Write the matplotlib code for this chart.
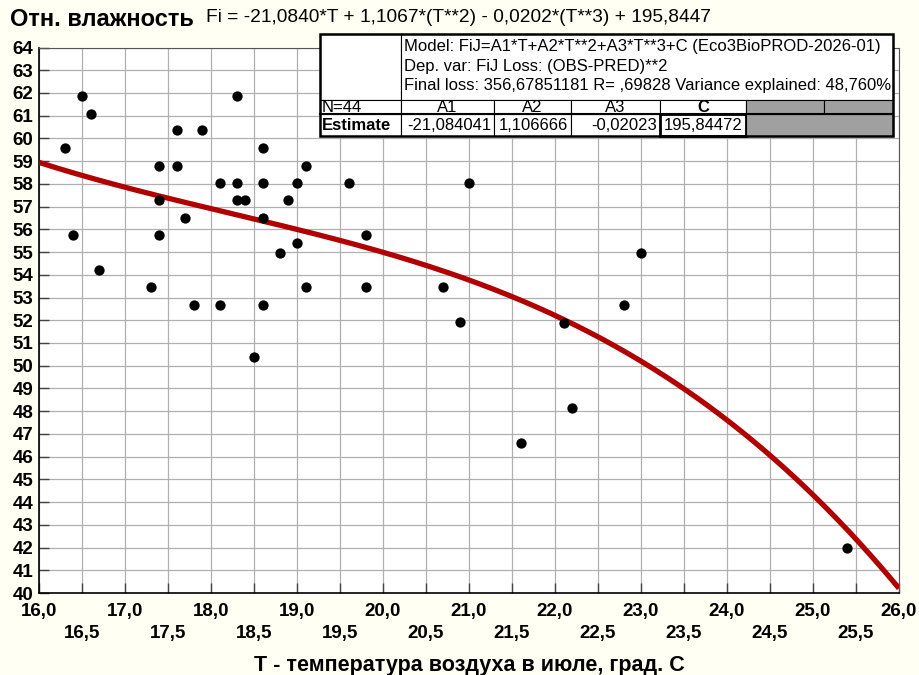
import numpy as np
import matplotlib.pyplot as plt
from matplotlib.patches import Rectangle
from matplotlib.ticker import FuncFormatter

plt.rcParams['font.family'] = ['Liberation Sans', 'DejaVu Sans']

# температура июля (T) и относительная влажность (Fi)
temp = [16.3, 16.4, 16.5, 16.6, 16.7, 17.3, 17.4, 17.4, 17.4, 17.6, 17.6,
        17.7, 17.8, 17.9, 18.1, 18.1, 18.3, 18.3, 18.3, 18.4, 18.5, 18.6,
        18.6, 18.6, 18.6, 18.8, 18.9, 19.0, 19.0, 19.1, 19.1, 19.6, 19.8,
        19.8, 20.7, 20.9, 21.0, 21.6, 22.1, 22.2, 22.8, 23.0, 25.4]
hum = [59.56, 55.75, 61.85, 61.08, 54.21, 53.46, 58.79, 57.27, 55.75, 58.79,
       60.35, 56.49, 52.68, 60.35, 58.03, 52.68, 61.85, 58.03, 57.27, 57.27,
       50.40, 59.56, 58.03, 56.52, 52.68, 54.97, 57.27, 58.03, 55.41, 58.79,
       53.46, 58.03, 55.75, 53.46, 53.46, 51.91, 58.03, 46.60, 51.90, 48.12,
       52.68, 54.98, 42.00]

# оценки параметров модели FiJ = A1*T + A2*T**2 + A3*T**3 + C
A1, A2, A3, C = -21.084041, 1.106666, -0.02023, 195.84472
n_obs = 44
final_loss = '356,67851181'
r_val = ',69828'
var_expl = '48,760%'

W, H = 920, 675
fig = plt.figure(figsize=(W / 100, H / 100), dpi=100)
fig.patch.set_facecolor('#fffff3')

ax = fig.add_axes([39 / W, 82 / H, 860 / W, 545.5 / H])
ax.set_facecolor('white')
ax.set_xlim(16, 26)
ax.set_ylim(40, 64)

# сетка
ax.set_xticks(np.arange(16, 26.01, 1.0))
ax.set_xticks(np.arange(16.5, 26, 1.0), minor=True)
ax.set_yticks(np.arange(40, 64.01, 1))
ax.grid(True, which='both', color='#b0b0b0', lw=0.9, zorder=0)
ax.set_axisbelow(True)

comma = FuncFormatter(lambda v, p: ('%.1f' % v).replace('.', ','))
ax.xaxis.set_major_formatter(comma)
ax.xaxis.set_minor_formatter(comma)
ax.yaxis.set_major_formatter(FuncFormatter(lambda v, p: '%d' % v))

ax.tick_params(axis='both', which='both', direction='in', length=7,
               width=1, color='#444444', labelsize=13.5)
ax.tick_params(axis='x', which='major', pad=7)
ax.tick_params(axis='x', which='minor', pad=23)
ax.tick_params(axis='y', pad=4)
for lab in ax.get_xticklabels(which='both') + ax.get_yticklabels():
    lab.set_fontweight('bold')

for side in ['left', 'bottom']:
    ax.spines[side].set_color('black')
    ax.spines[side].set_linewidth(1.2)
for side in ['top', 'right']:
    ax.spines[side].set_color('#555555')
    ax.spines[side].set_linewidth(0.8)

# кривая модели
tt = np.linspace(16, 26, 400)
fi = A1 * tt + A2 * tt ** 2 + A3 * tt ** 3 + C
ax.plot(tt, fi, color='#b00000', lw=3.8, zorder=3, solid_capstyle='butt')

ax.scatter(temp, hum, s=55, color='black', zorder=4, linewidths=0)

# подписи
fig.text(10 / W, 1 - 26 / H, 'Отн. влажность', fontsize=17,
         fontweight='bold', ha='left', va='baseline')
eq = 'Fi = %s*T + %s*(T**2) - %s*(T**3) + %s' % (
    ('%.4f' % A1).replace('.', ','), ('%.4f' % A2).replace('.', ','),
    ('%.4f' % -A3).replace('.', ','), ('%.4f' % C).replace('.', ','))
fig.text(206 / W, 1 - 22 / H, eq, fontsize=13.8, ha='left', va='baseline')
fig.text(469 / W, 1 - 671 / H, 'T - температура воздуха в июле, град. С',
         fontsize=15.5, fontweight='bold', ha='center', va='baseline')

# таблица результатов оценки
ov = fig.add_axes([0, 0, 1, 1], zorder=10)
ov.set_xlim(0, W)
ov.set_ylim(H, 0)
ov.axis('off')
ov.patch.set_alpha(0)

cols = [320, 401, 494, 571, 660, 746, 824, 893]
rows = [34, 100, 114, 136]
fs = 12

def cell(x0, x1, y0, y1, fc='white', lw=0.8):
    ov.add_patch(Rectangle((x0, y0), x1 - x0, y1 - y0, facecolor=fc,
                           edgecolor='black', lw=lw))

cell(cols[0], cols[1], rows[0], rows[1])
cell(cols[1], cols[-1], rows[0], rows[1])
lines = ['Model: FiJ=A1*T+A2*T**2+A3*T**3+C (Eco3BioPROD-2026-01)',
         'Dep. var: FiJ Loss: (OBS-PRED)**2',
         'Final loss: %s R= %s Variance explained: %s' % (final_loss, r_val, var_expl)]
for i, s in enumerate(lines):
    ov.text(cols[1] + 3, rows[0] + 12.5 + i * 19.5, s, fontsize=fs,
            ha='left', va='center')

heads = ['A1', 'A2', 'A3', 'C']
ests = ['-21,084041', '1,106666', '-0,02023', '195,84472']
cell(cols[0], cols[1], rows[1], rows[2])
ov.text(cols[0] + 2, (rows[1] + rows[2]) / 2 + 1, 'N=%d' % n_obs, fontsize=fs,
        ha='left', va='center')
cell(cols[0], cols[1], rows[2], rows[3])
ov.text(cols[0] + 2, (rows[2] + rows[3]) / 2, 'Estimate', fontsize=fs,
        fontweight='bold', ha='left', va='center')
for i in range(4):
    x0, x1 = cols[i + 1], cols[i + 2]
    cell(x0, x1, rows[1], rows[2])
    ov.text((x0 + x1) / 2, (rows[1] + rows[2]) / 2 + 1, heads[i], fontsize=fs,
            fontweight='bold' if heads[i] == 'C' else 'normal',
            ha='center', va='center')
    cell(x0, x1, rows[2], rows[3], lw=2.0 if i == 3 else 0.8)
    ov.text(x1 - 3, (rows[2] + rows[3]) / 2, ests[i], fontsize=fs,
            ha='right', va='center')
cell(cols[5], cols[6], rows[1], rows[2], fc='#a0a0a0')
cell(cols[6], cols[7], rows[1], rows[2], fc='#a0a0a0')
cell(cols[5], cols[7], rows[2], rows[3], fc='#a0a0a0')
ov.add_patch(Rectangle((cols[0], rows[0]), cols[-1] - cols[0],
                       rows[-1] - rows[0], fill=False, edgecolor='black', lw=1.8))
ov.plot([cols[0], cols[-1]], [rows[2], rows[2]], color='black', lw=1.5)

fig.savefig('out.png', dpi=100, facecolor=fig.get_facecolor())
